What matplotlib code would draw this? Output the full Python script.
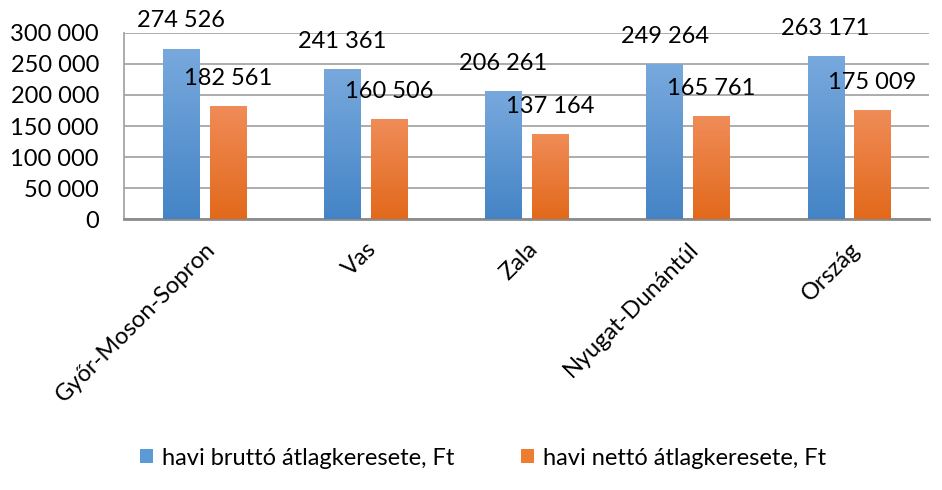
import numpy as np
import matplotlib.pyplot as plt
from matplotlib.patches import Patch
from matplotlib.ticker import FuncFormatter
from matplotlib.colors import LinearSegmentedColormap

plt.rcParams['font.family'] = ['Lato', 'DejaVu Sans']

# --- DATA
categories = ["Győr-Moson-Sopron", "Vas", "Zala", "Nyugat-Dunántúl", "Ország"]
brutto = [274526, 241361, 206261, 249264, 263171]
netto = [182561, 160506, 137164, 165761, 175009]
series_names = ["havi bruttó átlagkeresete, Ft", "havi nettó átlagkeresete, Ft"]

# --- STYLE
BLUE_TOP, BLUE_BOT = "#78a9dd", "#4484c6"
ORANGE_TOP, ORANGE_BOT = "#f08c58", "#e2691b"
BAR_W = 0.225
OFFSET = 0.144
FS = 17


def fmt_space(v, pos=None):
    return f"{int(v):,}".replace(",", " ")


def gradient_bars(ax, bars, top, bottom):
    cmap = LinearSegmentedColormap.from_list("g", [bottom, top])
    grad = np.linspace(0, 1, 256).reshape(-1, 1)
    for b in bars:
        x0, y0 = b.get_x(), b.get_y()
        w, h = b.get_width(), b.get_height()
        im = ax.imshow(grad, cmap=cmap, origin="lower", aspect="auto",
                       extent=(x0, x0 + w, y0, y0 + h), zorder=3)
        im.set_clip_path(b)


fig = plt.figure(figsize=(9.42, 4.9), dpi=100)
ax = fig.add_axes([0.1316, 0.553, 0.855, 0.3797])

x = np.arange(len(categories))
b1 = ax.bar(x - OFFSET, brutto, BAR_W, color="none", edgecolor="none", zorder=3)
b2 = ax.bar(x + OFFSET, netto, BAR_W, color="none", edgecolor="none", zorder=3)
gradient_bars(ax, b1, BLUE_TOP, BLUE_BOT)
gradient_bars(ax, b2, ORANGE_TOP, ORANGE_BOT)

# value labels
for bars, vals in ((b1, brutto), (b2, netto)):
    for b, v in zip(bars, vals):
        ax.annotate(fmt_space(v), (b.get_x() + b.get_width() / 2, v),
                    xytext=(0, 20), textcoords="offset points",
                    ha="center", va="center", fontsize=FS, zorder=5)

ax.set_xlim(-0.5, len(categories) - 0.5)
ax.set_ylim(0, 300000)
ax.set_yticks(np.arange(0, 300001, 50000))
ax.yaxis.set_major_formatter(FuncFormatter(fmt_space))
ax.grid(axis="y", color="#a6a6a6", linewidth=1.3, zorder=0)
ax.set_axisbelow(True)

ax.set_xticks(x)
ax.set_xticklabels(categories, rotation=45, ha="right", rotation_mode="anchor")
ax.tick_params(axis="x", length=0, pad=14, labelsize=FS)
ax.tick_params(axis="y", length=0, pad=18, labelsize=FS)

for s in ("top", "right"):
    ax.spines[s].set_visible(False)
ax.spines["left"].set_color("#a6a6a6")
ax.spines["left"].set_linewidth(1.3)
ax.spines["bottom"].set_color("#8c8c8c")
ax.spines["bottom"].set_linewidth(2)

handles = [Patch(facecolor="#5b9bd5"), Patch(facecolor="#ed7d31")]
fig.legend(handles, series_names, loc="center", bbox_to_anchor=(0.513, 0.065),
           ncol=2, frameon=False, fontsize=FS, handlelength=0.55, handleheight=0.55,
           handletextpad=0.4, columnspacing=2.8)

fig.savefig("out.png", dpi=100)
